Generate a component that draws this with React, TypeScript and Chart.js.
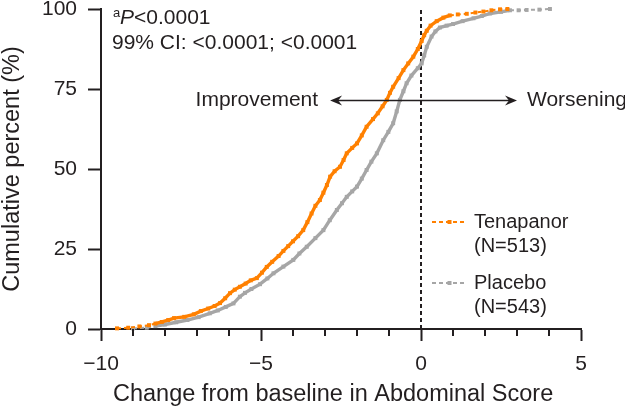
import React, { useEffect, useRef } from 'react';
import { Chart, registerables } from 'chart.js';

Chart.register(...registerables);

// ---------------- data ----------------
const tenapanorX = [-9.5, -9.15, -8.8, -8.5, -8.3, -8.1, -7.9, -7.72, -7.4, -7.1, -6.88, -6.65, -6.45, -6.28, -6.12, -5.97, -5.82, -5.66, -5.48, -5.32, -5.13, -4.97, -4.82, -4.65, -4.45, -4.3, -4.15, -4.0, -3.84, -3.68, -3.55, -3.42, -3.3, -3.16, -3.05, -2.94, -2.84, -2.7, -2.53, -2.42, -2.32, -2.15, -2.0, -1.85, -1.7, -1.5, -1.35, -1.2, -1.07, -0.97, -0.87, -0.7, -0.55, -0.4, -0.24, -0.1, 0.02, 0.1, 0.18, 0.3, 0.49, 0.7, 0.9, 1.15, 1.43, 1.7, 1.95, 2.2, 2.47, 2.7];
const tenapanorY = [0.2, 0.4, 0.8, 1.2, 1.7, 2.2, 2.8, 3.4, 3.8, 4.6, 5.6, 6.4, 7.2, 8.1, 9.6, 11.2, 12.3, 13.2, 14.2, 15.2, 15.9, 17.6, 19.4, 21.0, 22.8, 24.4, 25.9, 27.4, 29.0, 30.9, 33.4, 36.1, 38.5, 40.3, 42.6, 45.0, 47.6, 49.3, 50.7, 52.8, 54.9, 56.6, 58.0, 60.5, 63.2, 65.6, 67.4, 69.6, 71.6, 73.8, 75.7, 78.4, 80.9, 83.0, 85.1, 87.5, 90.0, 91.8, 93.2, 94.8, 96.2, 97.3, 98.0, 98.3, 98.5, 98.9, 99.2, 99.6, 99.9, 100];

const placeboX = [-9.0, -8.57, -8.3, -8.0, -7.65, -7.3, -6.95, -6.6, -6.35, -6.1, -5.86, -5.66, -5.5, -5.3, -5.03, -4.8, -4.61, -4.3, -3.99, -3.8, -3.57, -3.3, -3.05, -2.85, -2.63, -2.47, -2.32, -2.15, -2.0, -1.85, -1.7, -1.55, -1.38, -1.18, -1.02, -0.87, -0.76, -0.66, -0.55, -0.45, -0.3, -0.1, 0.02, 0.1, 0.18, 0.33, 0.45, 0.59, 0.8, 1.0, 1.3, 1.64, 1.9, 2.16, 2.5, 2.78, 3.05, 3.3, 3.7, 4.03];
const placeboY = [0.2, 0.4, 0.9, 1.4, 2.1, 2.8, 3.7, 4.9, 5.8, 6.9, 8.0, 10.1, 11.3, 12.5, 14.0, 15.8, 17.4, 19.5, 21.6, 23.6, 25.7, 28.4, 30.9, 34.0, 37.2, 39.3, 41.3, 43.0, 44.5, 47.0, 49.7, 52.3, 54.9, 59.0, 61.6, 64.3, 68.0, 71.6, 74.3, 76.8, 79.2, 81.5, 83.0, 85.5, 88.2, 91.4, 93.0, 94.2, 94.8, 95.3, 96.2, 97.1, 97.8, 98.6, 99.1, 99.6, 99.6, 99.7, 99.8, 100];

const seriesNames = ['Tenapanor', 'Placebo'];
const seriesCounts = ['(N=513)', '(N=543)'];
const xTickValues = [-10, -5, 0, 5];
const yTickValues = [0, 25, 50, 75, 100];
const noChangeX = 0;
const pValueText = '<0.0001';
const ciText = '99% CI: <0.0001; <0.0001';
const xTitle = 'Change from baseline in Abdominal Score';
const yTitle = 'Cumulative percent (%)';
const leftLabel = 'Improvement';
const rightLabel = 'Worsening';

// ---------------- style ----------------
const FONT = "'Liberation Sans', Arial, Helvetica, sans-serif";
const INK = '#231F20';
const ORANGE = '#FF8000';
const GRAY = '#A6A6A6';
const COLORS = [ORANGE, GRAY];
const TAILS = [
  { low: 1.3, high: 97.9 },
  { low: 0.5, high: 99.5 },
];
// arrow annotation in data units
const arrowY = 71.6;
const arrowFrom = -2.84;
const arrowTo = 3.0;

function makeSegment(ys: number[], low: number, high: number) {
  const isTail = (i: number) => ys[i] < low || ys[i] >= high;
  return {
    borderDash: (ctx: any) => (isTail(ctx.p0DataIndex) ? [4, 3] : undefined),
    borderWidth: (ctx: any) => (isTail(ctx.p0DataIndex) ? 2 : 3.4),
  };
}

const decorPlugin = {
  id: 'decor',
  afterDraw(chart: any) {
    const { ctx, chartArea, scales } = chart;
    const xs = scales.x;
    const ys = scales.y;
    ctx.save();

    // minor ticks on x axis
    ctx.strokeStyle = INK;
    ctx.lineWidth = 2;
    ctx.lineCap = 'butt';
    for (let v = -10; v <= 5; v++) {
      if (xTickValues.includes(v)) continue;
      const px = Math.round(xs.getPixelForValue(v));
      ctx.beginPath();
      ctx.moveTo(px, chartArea.bottom);
      ctx.lineTo(px, chartArea.bottom + 7);
      ctx.stroke();
    }

    // x axis title
    ctx.fillStyle = INK;
    ctx.font = `23.5px ${FONT}`;
    ctx.textBaseline = 'middle';
    ctx.textAlign = 'left';
    ctx.fillText(xTitle, chartArea.left + 12, chartArea.bottom + 66);

    // annotation text
    const left = chartArea.left;
    ctx.textBaseline = 'alphabetic';
    ctx.textAlign = 'left';
    ctx.font = `13px ${FONT}`;
    ctx.fillText('a', left + 12, 17);
    ctx.font = `italic 21px ${FONT}`;
    ctx.fillText('P', left + 19, 24);
    const pw = ctx.measureText('P').width;
    ctx.font = `21px ${FONT}`;
    ctx.fillText(pValueText, left + 19 + pw, 24);
    ctx.fillText(ciText, left + 11, 49);

    // double arrow
    const ay = Math.round(ys.getPixelForValue(arrowY)) + 0.5;
    const ax0 = xs.getPixelForValue(arrowFrom);
    const ax1 = xs.getPixelForValue(arrowTo);
    ctx.strokeStyle = INK;
    ctx.lineWidth = 1.6;
    ctx.beginPath();
    ctx.moveTo(ax0 + 6, ay);
    ctx.lineTo(ax1 - 6, ay);
    ctx.stroke();
    const head = (tip: number, dir: number) => {
      ctx.beginPath();
      ctx.moveTo(tip, ay);
      ctx.lineTo(tip - dir * 12, ay - 5);
      ctx.lineTo(tip - dir * 8, ay);
      ctx.lineTo(tip - dir * 12, ay + 5);
      ctx.closePath();
      ctx.fill();
    };
    head(ax0, -1);
    head(ax1, 1);
    ctx.font = `21px ${FONT}`;
    ctx.textBaseline = 'middle';
    ctx.textAlign = 'right';
    ctx.fillText(leftLabel, ax0 - 12, ay);
    ctx.textAlign = 'left';
    ctx.fillText(rightLabel, ax1 + 10, ay);

    // legend
    const lx0 = left + 331;
    const lx1 = left + 366;
    const tx = left + 373;
    const rows = [chartArea.top + 213, chartArea.top + 274];
    ctx.font = `20px ${FONT}`;
    ctx.textBaseline = 'middle';
    ctx.textAlign = 'left';
    seriesNames.forEach((name, i) => {
      const y = rows[i];
      ctx.strokeStyle = COLORS[i];
      ctx.fillStyle = COLORS[i];
      ctx.lineWidth = 2;
      ctx.setLineDash([4, 3]);
      ctx.beginPath();
      ctx.moveTo(lx0, y);
      ctx.lineTo(lx1, y);
      ctx.stroke();
      ctx.setLineDash([]);
      ctx.fillRect((lx0 + lx1) / 2 - 2, y - 2, 4, 4);
      ctx.fillStyle = INK;
      ctx.fillText(name, tx, y);
      ctx.fillText(seriesCounts[i], tx, y + 24);
    });

    ctx.restore();
  },
};

export default function App() {
  const ref = useRef<HTMLCanvasElement | null>(null);

  useEffect(() => {
    if (!ref.current) return;
    const datasets: any[] = [
      {
        label: seriesNames[0],
        data: tenapanorX.map((x, i) => ({ x, y: tenapanorY[i] })),
        borderColor: ORANGE,
        backgroundColor: ORANGE,
        borderWidth: 3.4,
        pointStyle: 'rect',
        pointRadius: 2.8,
        pointBorderWidth: 0,
        pointHoverRadius: 2.8,
        showLine: true,
        tension: 0,
        clip: false,
        segment: makeSegment(tenapanorY, TAILS[0].low, TAILS[0].high),
      },
      {
        label: seriesNames[1],
        data: placeboX.map((x, i) => ({ x, y: placeboY[i] })),
        borderColor: GRAY,
        backgroundColor: GRAY,
        borderWidth: 3.4,
        pointStyle: 'rect',
        pointRadius: 2.8,
        pointBorderWidth: 0,
        pointHoverRadius: 2.8,
        showLine: true,
        tension: 0,
        clip: false,
        segment: makeSegment(placeboY, TAILS[1].low, TAILS[1].high),
      },
      {
        label: 'no change',
        data: [
          { x: noChangeX, y: yTickValues[0] },
          { x: noChangeX, y: yTickValues[yTickValues.length - 1] },
        ],
        borderColor: INK,
        borderWidth: 2,
        borderDash: [4, 3],
        pointRadius: 0,
        showLine: true,
        clip: false,
      },
    ];

    const chart = new Chart(ref.current, {
      type: 'scatter',
      data: { datasets },
      plugins: [decorPlugin],
      options: {
        animation: false,
        responsive: false,
        devicePixelRatio: 1,
        layout: { padding: { top: 9, right: 44, left: 0, bottom: 0 } },
        plugins: { legend: { display: false }, tooltip: { enabled: false } },
        events: [],
        scales: {
          x: {
            type: 'linear',
            min: -10,
            max: 5,
            afterFit: (s: any) => {
              s.height = 79;
              s.paddingLeft = 0;
              s.paddingRight = 0;
            },
            ticks: {
              stepSize: 1,
              autoSkip: false,
              maxRotation: 0,
              padding: 11,
              color: INK,
              font: { family: FONT, size: 21, lineHeight: 1.2 },
              callback: (v: any) => (xTickValues.includes(Number(v)) ? String(v).replace('-', '\u2212') : ''),
            },
            grid: {
              drawOnChartArea: false,
              drawTicks: true,
              tickLength: 12,
              tickWidth: 2,
              tickColor: (c: any) => (c.tick && xTickValues.includes(c.tick.value) ? INK : 'rgba(0,0,0,0)'),
            },
            border: { display: true, color: INK, width: 2 },
            title: { display: false },
          },
          y: {
            type: 'linear',
            min: 0,
            max: 100,
            afterFit: (s: any) => {
              s.width = 101;
              s.paddingTop = 0;
              s.paddingBottom = 0;
            },
            afterBuildTicks: (s: any) => {
              s.ticks = yTickValues.map((v) => ({ value: v }));
            },
            ticks: {
              padding: 11,
              color: INK,
              font: { family: FONT, size: 21, lineHeight: 0.8 },
            },
            grid: {
              drawOnChartArea: false,
              drawTicks: true,
              tickLength: 13,
              tickWidth: 2,
              tickColor: INK,
            },
            border: { display: true, color: INK, width: 2 },
            title: {
              display: true,
              text: yTitle,
              color: INK,
              padding: { top: 0, bottom: 0 },
              font: { family: FONT, size: 23.5, lineHeight: 1.03 },
            },
          },
        },
      },
    } as any);

    return () => chart.destroy();
  }, []);

  return (
    <div style={{ position: 'absolute', left: 0, top: 0, width: 625, height: 408, background: '#fff' }}>
      <canvas ref={ref} width={625} height={408} style={{ width: 625, height: 408, display: 'block' }} />
    </div>
  );
}
